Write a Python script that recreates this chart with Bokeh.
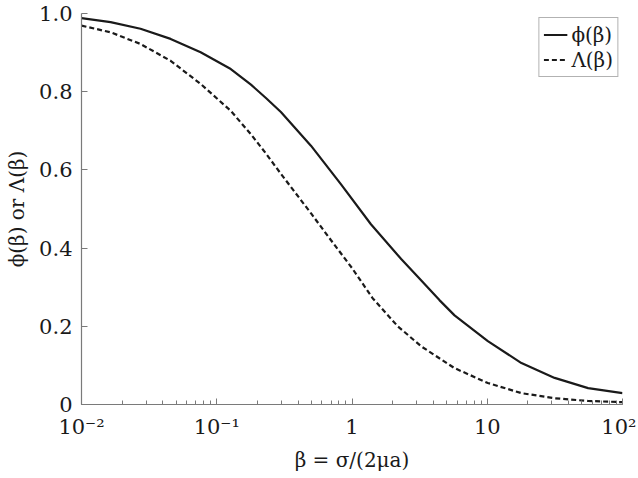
from bokeh.plotting import figure
from bokeh.models import Range1d, LogTicker, FixedTicker, Legend, LegendItem
from bokeh.embed import file_html
from bokeh.resources import INLINE

beta_phi = [0.01, 0.0164, 0.0273, 0.0456, 0.076, 0.127, 0.179, 0.231, 0.298, 0.497, 0.830,
            1.38, 2.31, 3.24, 4.43, 5.73, 10.1, 17.9, 31.5, 55.7, 100]
phi = [0.988, 0.978, 0.961, 0.935, 0.901, 0.858, 0.818, 0.784, 0.748, 0.662, 0.563,
       0.461, 0.372, 0.318, 0.267, 0.228, 0.162, 0.106, 0.068, 0.042, 0.029]

beta_lam = [0.01, 0.0164, 0.0273, 0.0456, 0.076, 0.127, 0.179, 0.231, 0.298, 0.50, 0.70,
            1.0, 1.42, 2.18, 3.24, 5.73, 10.1, 17.9, 31.5, 55.7, 100]
lam = [0.969, 0.952, 0.922, 0.879, 0.820, 0.751, 0.691, 0.642, 0.590, 0.488, 0.420,
       0.349, 0.272, 0.200, 0.149, 0.093, 0.055, 0.029, 0.016, 0.009, 0.006]

x_ticks = [0.01, 0.1, 1, 10, 100]
x_labels = ["10\u207b\u00b2", "10\u207b\u00b9", "1", "10", "10\u00b2"]
y_ticks = [0, 0.2, 0.4, 0.6, 0.8, 1.0]
y_labels = ["0", "0.2", "0.4", "0.6", "0.8", "1.0"]

FONT = "DejaVu Serif"
AX = "#7a7a7a"
INK = "#1a1a1a"

p = figure(width=636, height=476, x_axis_type="log", output_backend="svg",
           toolbar_location=None, x_range=Range1d(0.01, 100), y_range=Range1d(0, 1.0),
           min_border_left=81, min_border_right=14, min_border_top=13, min_border_bottom=72)
p.outline_line_color = None
p.xgrid.visible = False
p.ygrid.visible = False

l1 = p.line(beta_phi, phi, line_color=INK, line_width=2.2)
l2 = p.line(beta_lam, lam, line_color=INK, line_width=2.2, line_dash="5 3")

xa = p.xaxis[0]
xa.ticker = LogTicker(num_minor_ticks=10)
xa.major_label_overrides = {t: s for t, s in zip(x_ticks, x_labels)}
xa.axis_label = "\u03b2 = \u03c3/(2\u03bca)"
ya = p.yaxis[0]
ya.ticker = FixedTicker(ticks=y_ticks)
ya.major_label_overrides = {t: s for t, s in zip(y_ticks, y_labels)}
ya.axis_label = "\u03d5(\u03b2) or \u039b(\u03b2)"

for ax in (xa, ya):
    ax.axis_line_color = AX
    ax.axis_line_width = 1.2
    ax.major_tick_line_color = AX
    ax.minor_tick_line_color = AX
    ax.major_tick_in = 6
    ax.major_tick_out = 0
    ax.minor_tick_in = 4
    ax.minor_tick_out = 0
    ax.major_label_text_font = FONT
    ax.major_label_text_font_size = "21px"
    ax.major_label_text_color = INK
    ax.axis_label_text_font = FONT
    ax.axis_label_text_font_size = "20px"
    ax.axis_label_text_font_style = "normal"
    ax.axis_label_text_color = INK
ya.minor_tick_in = 0
xa.major_label_standoff = 10
xa.axis_label_standoff = 6
ya.major_label_standoff = 9
ya.axis_label_standoff = 7

legend = Legend(items=[LegendItem(label="\u03d5(\u03b2)", renderers=[l1]),
                       LegendItem(label="\u039b(\u03b2)", renderers=[l2])],
                location="top_right")
legend.label_text_font = FONT
legend.label_text_font_style = "normal"
legend.label_text_font_size = "20px"
legend.label_text_color = INK
legend.border_line_color = "#666666"
legend.border_line_width = 1
legend.glyph_width = 24
legend.glyph_height = 25
legend.label_height = 25
legend.label_standoff = 4
legend.spacing = 0
legend.padding = 4
legend.margin = 4
p.add_layout(legend)

open("out.html", "w").write(file_html(p, INLINE))
